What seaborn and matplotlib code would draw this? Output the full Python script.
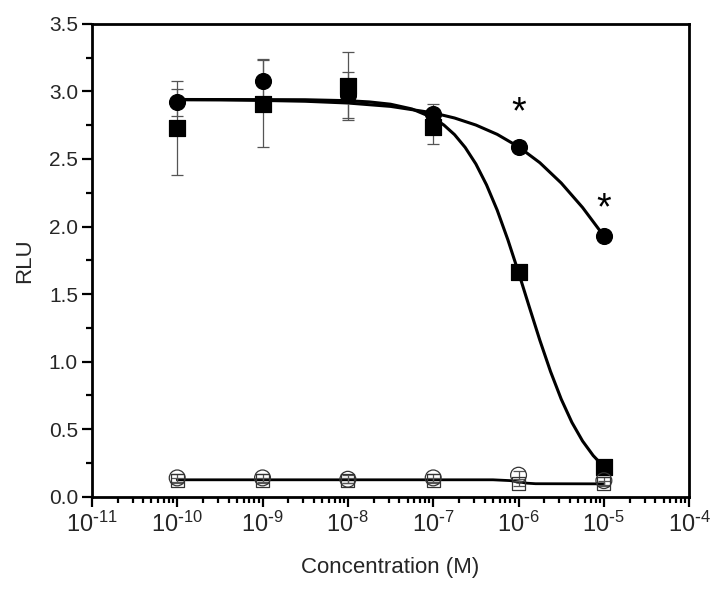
"""
RLU dose-response plot (filled = treated, open = control)
"""

import numpy as np
import pandas as pd
import matplotlib
matplotlib.use('Agg')
import matplotlib.pyplot as plt
from matplotlib.ticker import MultipleLocator, LogLocator, NullFormatter, FixedFormatter
import seaborn as sns

sns.set_theme(style='ticks')
plt.rcParams['font.family'] = ['Liberation Sans', 'DejaVu Sans']
plt.rcParams['mathtext.default'] = 'regular'
plt.rcParams['axes.unicode_minus'] = False

# measured points
conc = [1e-10, 1e-9, 1e-8, 1e-7, 1e-6, 1e-5]
sq_mean = [2.73, 2.91, 3.04, 2.74, 1.66, 0.22]
sq_err = [0.35, 0.32, 0.25, 0.13, 0.05, 0.02]
ci_mean = [2.92, 3.08, 2.97, 2.83, 2.59, 1.93]
ci_err = [0.10, 0.16, 0.17, 0.08, 0.04, 0.02]
open_sq_mean = [0.12, 0.12, 0.12, 0.12, 0.10, 0.10]
open_sq_err = [0.02, 0.02, 0.02, 0.02, 0.02, 0.02]
open_ci_mean = [0.14, 0.14, 0.13, 0.14, 0.16, 0.12]
open_ci_err = [0.03, 0.03, 0.03, 0.03, 0.03, 0.03]

# fitted curves (log10 concentration -> RLU)
sq_fit_logx = [-10, -9, -8.5, -8, -7.75, -7.5, -7.25, -7, -6.875, -6.75,
               -6.625, -6.5, -6.375, -6.25, -6.125, -6, -5.875, -5.75,
               -5.625, -5.5, -5.375, -5.25, -5.125, -5]
sq_fit_y = [2.94, 2.939, 2.938, 2.931, 2.922, 2.905, 2.870, 2.804, 2.751,
            2.680, 2.585, 2.463, 2.308, 2.121, 1.902, 1.660, 1.407, 1.158,
            0.927, 0.723, 0.551, 0.413, 0.305, 0.222]
ci_fit_logx = [-10, -9.5, -9, -8.5, -8, -7.5, -7, -6.75, -6.5, -6.25, -6,
               -5.75, -5.5, -5.25, -5]
ci_fit_y = [2.938, 2.937, 2.933, 2.927, 2.914, 2.889, 2.841, 2.803, 2.751,
            2.682, 2.590, 2.472, 2.322, 2.141, 1.930]
open_fit_logx = [-10, -9, -8, -7, -6.3, -6.1, -6.0, -5.9, -5.8, -5]
open_fit_y = [0.126, 0.126, 0.126, 0.126, 0.126, 0.120, 0.111, 0.101,
              0.097, 0.096]

star_conc = [1e-6, 1e-5]
star_y = [2.84, 2.13]

x_exponents = [-11, -10, -9, -8, -7, -6, -5, -4]
y_ticks = [0.0, 0.5, 1.0, 1.5, 2.0, 2.5, 3.0, 3.5]

fig = plt.figure(figsize=(7.12, 5.95), dpi=100)
ax = fig.add_axes([0.129, 0.165, 0.839, 0.795])

# fitted lines
for lx, ly, lw in [(open_fit_logx, open_fit_y, 2.0),
                   (ci_fit_logx, ci_fit_y, 2.2),
                   (sq_fit_logx, sq_fit_y, 2.2)]:
    df = pd.DataFrame({'x': 10.0 ** np.array(lx), 'y': ly})
    sns.lineplot(data=df, x='x', y='y', ax=ax, color='black', lw=lw,
                 sort=False, estimator=None, zorder=2)

# error bars
ebar = dict(fmt='none', ecolor='#555555', elinewidth=0.9, capsize=4.5,
            capthick=0.9, zorder=3)
ax.errorbar(conc, sq_mean, yerr=sq_err, **ebar)
ax.errorbar(conc, ci_mean, yerr=ci_err, **ebar)
ax.errorbar(conc, open_sq_mean, yerr=open_sq_err, **ebar)
ax.errorbar(conc, open_ci_mean, yerr=open_ci_err, **ebar)

# markers
pts = pd.DataFrame({'x': conc * 4,
                    'y': sq_mean + ci_mean + open_sq_mean + open_ci_mean,
                    'g': ['sq'] * 6 + ['ci'] * 6 + ['osq'] * 6 + ['oci'] * 6})
sns.scatterplot(data=pts[pts.g == 'sq'], x='x', y='y', ax=ax, marker='s',
                s=120, color='black', edgecolor='black', zorder=4)
sns.scatterplot(data=pts[pts.g == 'ci'], x='x', y='y', ax=ax, marker='o',
                s=130, color='black', edgecolor='black', zorder=4)
sns.scatterplot(data=pts[pts.g == 'osq'], x='x', y='y', ax=ax, marker='s',
                s=90, facecolor='none', edgecolor='#333333', linewidth=0.9,
                zorder=4)
sns.scatterplot(data=pts[pts.g == 'oci'], x='x', y='y', ax=ax, marker='o',
                s=130, facecolor='none', edgecolor='#333333', linewidth=0.9,
                zorder=4)

for xs, ys in zip(star_conc, star_y):
    ax.text(xs, ys, '*', ha='center', va='center', fontsize=27,
            color='black')

ax.set_xscale('log')
ax.set_xlim(1e-11, 1e-4)
ax.set_ylim(0, 3.5)
ax.set_xticks([10.0 ** e for e in x_exponents])
ax.xaxis.set_major_formatter(FixedFormatter(
    [r'$10^{\text{-}%d}$' % abs(e) for e in x_exponents]))
ax.xaxis.set_minor_locator(LogLocator(base=10, subs=np.arange(2, 10), numticks=20))
ax.xaxis.set_minor_formatter(NullFormatter())
ax.set_yticks(y_ticks)
ax.set_yticklabels([f'{v:.1f}' for v in y_ticks])
ax.yaxis.set_minor_locator(MultipleLocator(0.25))

for side in ['left', 'right', 'top', 'bottom']:
    ax.spines[side].set_linewidth(2)
    ax.spines[side].set_color('black')
ax.tick_params(which='major', direction='out', length=7, width=1.6,
               color='black', top=False, right=False)
ax.tick_params(which='minor', direction='out', length=4, width=1.6,
               color='black', top=False, right=False)
ax.tick_params(axis='y', labelsize=15, pad=3)
ax.tick_params(axis='x', labelsize=17, pad=4)

ax.set_xlabel('Concentration (M)', fontsize=16, labelpad=14)
ax.set_ylabel('RLU', fontsize=16, labelpad=10)
ax.grid(False)
if ax.get_legend():
    ax.get_legend().remove()

fig.savefig('out.png', dpi=100)
